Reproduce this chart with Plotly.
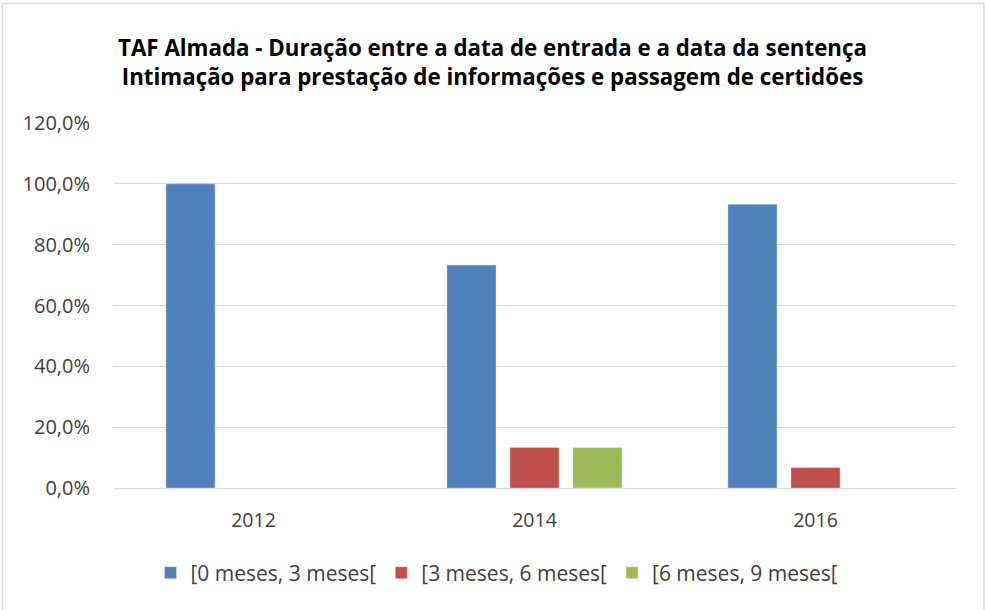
import plotly.graph_objects as go

years = ["2012", "2014", "2016"]
series_names = ["[0 meses, 3 meses[", "[3 meses, 6 meses[", "[6 meses, 9 meses["]
v0_3 = [1.000, 0.733, 0.933]
v3_6 = [0.0, 0.133, 0.067]
v6_9 = [0.0, 0.133, 0.0]
colors = ["#4F81BD", "#C0504D", "#9BBB59"]
tick_vals = [0, 0.2, 0.4, 0.6, 0.8, 1.0, 1.2]
tick_text = ["0,0%", "20,0%", "40,0%", "60,0%", "80,0%", "100,0%", "120,0%"]

FONT = "Open Sans"

fig = go.Figure()
for name, vals, col in zip(series_names, [v0_3, v3_6, v6_9], colors):
    fig.add_trace(go.Bar(
        x=years, y=vals, name=name,
        marker=dict(color=col, line=dict(color="rgba(255,255,255,0.35)", width=1)),
    ))

fig.update_layout(
    width=985, height=610,
    paper_bgcolor="white", plot_bgcolor="white",
    margin=dict(l=113, r=29, t=123, b=122, autoexpand=False),
    barmode="group", bargap=0.327, bargroupgap=0.22,
    font=dict(family=FONT, color="#404040"),
    title=dict(
        text="<b>TAF Almada - Duração entre a data de entrada e a data da sentença<br>Intimação para prestação de informações e passagem de certidões</b>",
        x=0.5, xanchor="center", xref="container", yref="container",
        y=1 - 56 / 610, yanchor="middle",
        font=dict(family=FONT, size=22.3, color="#000000"),
    ),
    xaxis=dict(
        showgrid=False, showline=True, linecolor="#D9D9D9", linewidth=1,
        ticks="", ticklabelstandoff=15,
        tickfont=dict(family=FONT, size=19.5, color="#404040"),
    ),
    yaxis=dict(
        range=[0, 1.2], tickvals=tick_vals, ticktext=tick_text,
        showgrid=True, gridcolor="#D9D9D9", gridwidth=1,
        zeroline=False, showline=False, ticks="", ticklabelstandoff=22,
        tickfont=dict(family=FONT, size=20, color="#404040"),
    ),
    legend=dict(
        orientation="h", x=(497 - 113) / 843, xanchor="center",
        y=(488 - 573) / 365, yanchor="middle",
        font=dict(family=FONT, size=21, color="#404040"),
        itemwidth=30, tracegroupgap=0,
    ),
    showlegend=True,
)

# outer chart border (top, left, right)
border = dict(color="#D9D9D9", width=1.5)
xl, xr = (2.5 - 113) / 843, (984 - 113) / 843
yt, yb = (488 - 3.5) / 365, (488 - 612) / 365
fig.add_shape(type="line", xref="paper", yref="paper", x0=xl, x1=xr, y0=yt, y1=yt, line=border)
fig.add_shape(type="line", xref="paper", yref="paper", x0=xl, x1=xl, y0=yb, y1=yt, line=border)
fig.add_shape(type="line", xref="paper", yref="paper", x0=xr, x1=xr, y0=yb, y1=yt, line=border)

fig.write_html("out.html", config={"displayModeBar": False},
               post_script="document.body.style.margin='0px';document.body.style.overflow='hidden';")
